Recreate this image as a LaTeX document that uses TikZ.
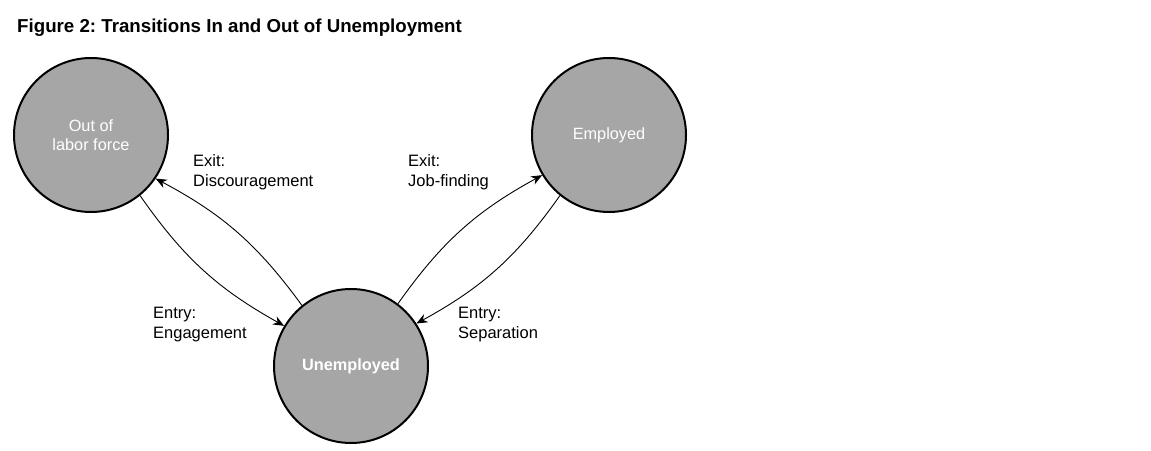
\documentclass[tikz,border=0pt]{standalone}
\usepackage{fontspec}
\setmainfont{Liberation Sans}
\usetikzlibrary{arrows.meta,positioning}
\definecolor{statefill}{RGB}{166,166,166}
\frenchspacing

\begin{document}
\begin{tikzpicture}[x=1pt,y=1pt,
    state/.style={circle,draw,line width=2pt,fill=statefill,text=white,
      minimum size=154pt,inner sep=0pt,align=center,
      font=\fontsize{16.3}{19.5}\selectfont},
    flowlabel/.style={anchor=north west,inner sep=0pt,align=left,
      font=\fontsize{16.5}{20}\selectfont},
    flow/.style={-{Stealth[length=11pt,width=9pt,inset=3.5pt]},line width=0.9pt}]
  \useasboundingbox (0,0) rectangle (1151,450);
  \node[anchor=base west,inner sep=0pt,font=\fontsize{18.7}{22}\selectfont\bfseries]
    (title) at (17,417) {Figure 2: Transitions In and Out of Unemployment};
  \node[state](olf) at (91,315) {Out of\\labor force};
  \node[state](emp) at (609,315) {Employed};
  \node[state,font=\fontsize{16.3}{19.5}\selectfont\bfseries](unemp) at (351,84) {Unemployed};
  \node[flowlabel](discour) at (193,296) {Exit:\\Discouragement};
  \node[flowlabel](jobfind) at (408,296) {Exit:\\Job-finding};
  \node[flowlabel](engage) at (153,143) {Entry:\\Engagement};
  \node[flowlabel](separ) at (458,143) {Entry:\\Separation};
  \path[flow]
    (olf.-51) edge[bend right=13] (unemp.149)
    (unemp.129) edge[bend right=13] (olf.-34)
    (unemp.53) edge[bend left=13] (emp.-149)
    (emp.-129) edge[bend left=13] (unemp.33)
  ;
\end{tikzpicture}
\end{document}
